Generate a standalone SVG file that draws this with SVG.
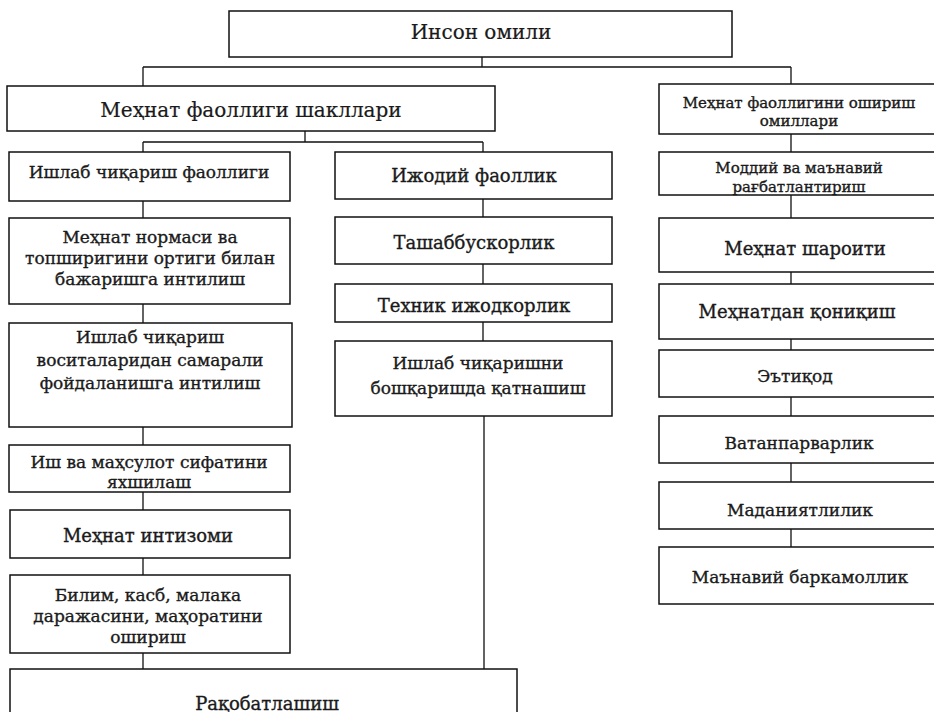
<svg xmlns="http://www.w3.org/2000/svg" width="934" height="712" viewBox="0 0 934 712">
<style>
.b{fill:#fff;stroke:#111;stroke-width:1.5}
.c{fill:none;stroke:#111;stroke-width:1.3}
text{font-family:"DejaVu Serif","Liberation Serif",serif;fill:#1a1a1a;stroke:#1a1a1a;stroke-width:0.35;text-anchor:middle;dominant-baseline:central;font-size:17px}
.h{font-size:20px;stroke-width:0.2}
.m{font-size:18px}
.s{font-size:15px}
</style>
<rect width="934" height="712" fill="#fff"/>
<g id="connectors">
<path class="c" d="M482 57V67M143 67H791M143 67V86M791 67V84"/>
<path class="c" d="M305 131V142M143 142H483M143 142V152M483 142V152"/>
<path class="c" d="M143 201V218M143 304V323M143 427V445M143 492V510M143 558V575M143 653V669"/>
<path class="c" d="M483 199V217M483 264V284M483 322V341M484 416V669"/>
<path class="c" d="M791 134V152M791 195V218M791 272V284M791 339V350M791 397V416M791 463V482M791 529V547"/>
</g>
<g id="n-root"><rect class="b" x="229" y="11" width="503" height="46"/><text class="h" x="481" y="32">Инсон омили</text></g>
<g id="n-forms"><rect class="b" x="7" y="86" width="488" height="45"/><text class="h" x="251" y="110">Меҳнат фаоллиги шакллари</text></g>
<g id="n-factors"><rect class="b" x="659" y="84" width="290" height="50"/><text class="s" x="799" y="103">Меҳнат фаоллигини ошириш</text><text class="s" x="799" y="121">омиллари</text></g>

<g id="n-l1"><rect class="b" x="9" y="152" width="281" height="49"/><text x="149" y="172">Ишлаб чиқариш фаоллиги</text></g>
<g id="n-l2"><rect class="b" x="9" y="218" width="281" height="86"/><text x="150" y="237">Меҳнат нормаси ва</text><text x="150" y="258">топширигини ортиги билан</text><text x="150" y="279">бажаришга интилиш</text></g>
<g id="n-l3"><rect class="b" x="9" y="323" width="283" height="104"/><text x="150" y="337">Ишлаб чиқариш</text><text x="150" y="360">воситаларидан самарали</text><text x="150" y="383">фойдаланишга интилиш</text></g>
<g id="n-l4"><rect class="b" x="9" y="445" width="281" height="47"/><text x="149" y="462">Иш ва маҳсулот сифатини</text><text x="149" y="482">яхшилаш</text></g>
<g id="n-l5"><rect class="b" x="10" y="510" width="280" height="48"/><text class="m" x="148" y="535">Меҳнат интизоми</text></g>
<g id="n-l6"><rect class="b" x="10" y="575" width="280" height="78"/><text x="148" y="595">Билим, касб, малака</text><text x="148" y="616">даражасини, маҳоратини</text><text x="148" y="637">ошириш</text></g>
<g id="n-l7"><rect class="b" x="10" y="669" width="507" height="60"/><text class="m" x="267" y="703">Рақобатлашиш</text></g>

<g id="n-m1"><rect class="b" x="335" y="152" width="277" height="47"/><text class="m" x="474" y="175">Ижодий фаоллик</text></g>
<g id="n-m2"><rect class="b" x="335" y="217" width="277" height="47"/><text class="m" x="474" y="242">Ташаббускорлик</text></g>
<g id="n-m3"><rect class="b" x="335" y="284" width="277" height="38"/><text class="m" x="474" y="305">Техник ижодкорлик</text></g>
<g id="n-m4"><rect class="b" x="335" y="341" width="277" height="75"/><text x="478" y="363">Ишлаб чиқаришни</text><text x="478" y="388">бошқаришда қатнашиш</text></g>

<g id="n-r1"><rect class="b" x="659" y="152" width="290" height="43"/><text class="s" x="799" y="168">Моддий ва маънавий</text><text class="s" x="799" y="187">рағбатлантириш</text></g>
<g id="n-r2"><rect class="b" x="659" y="218" width="290" height="54"/><text class="m" x="805" y="248">Меҳнат шароити</text></g>
<g id="n-r3"><rect class="b" x="659" y="284" width="290" height="55"/><text class="m" x="797" y="311">Меҳнатдан қониқиш</text></g>
<g id="n-r4"><rect class="b" x="659" y="350" width="290" height="47"/><text x="795" y="376">Эътиқод</text></g>
<g id="n-r5"><rect class="b" x="659" y="416" width="290" height="47"/><text x="799" y="443">Ватанпарварлик</text></g>
<g id="n-r6"><rect class="b" x="659" y="482" width="290" height="47"/><text x="800" y="510">Маданиятлилик</text></g>
<g id="n-r7"><rect class="b" x="659" y="547" width="290" height="57"/><text x="800" y="577">Маънавий баркамоллик</text></g>
</svg>
